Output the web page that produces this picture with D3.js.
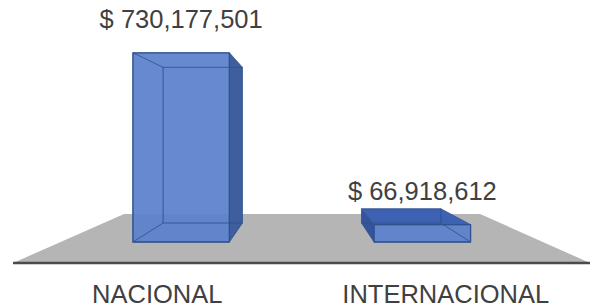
<!DOCTYPE html>
<html><head><meta charset="utf-8">
<script src="https://cdn.jsdelivr.net/npm/d3@7"></script>
<style>html,body{margin:0;padding:0;background:#fff;}svg{display:block;}</style>
</head><body>
<svg id="c" width="592" height="308"></svg>
<script>
const categories = ["NACIONAL", "INTERNACIONAL"];
const values = [730177501, 66918612];
const valueLabels = ["$ 730,177,501", "$ 66,918,612"];
const yDomain = [0, 800000000];

const floorY = 263, VX = 303, VY = 135;
const floorDepth = 0.383, barFront = 0.164, barBack = 0.3125;

const svg = d3.select("#c");
const x = d3.scaleBand().domain(categories).range([13, 590]).paddingInner(0.6).paddingOuter(0.3);
const y = d3.scaleLinear().domain(yDomain).range([0, 248]);

function proj(X, Y, d) {
  const sy0 = floorY - Y;
  return [X + (VX - X) * d, sy0 + (VY - sy0) * d];
}
const line = pts => "M" + pts.map(p => p.join(",")).join("L") + "Z";

// floor
const [x0, x1] = x.range();
svg.append("path")
  .attr("d", line([proj(x0, 0, 0), proj(x1, 0, 0), proj(x1, 0, floorDepth), proj(x0, 0, floorDepth)]))
  .attr("fill", "#b5b5b5");
svg.append("line")
  .attr("x1", x0).attr("x2", x1).attr("y1", floorY).attr("y2", floorY)
  .attr("stroke", "#4a4a4a").attr("stroke-width", 2.5);

// bars
const data = categories.map((c, i) => ({c, v: values[i], label: valueLabels[i]}));
const g = svg.selectAll("g.bar").data(data).join("g").attr("class", "bar");
g.each(function(d) {
  const el = d3.select(this);
  const L = x(d.c), R = x(d.c) + x.bandwidth(), T = y(d.v);
  const P = proj;
  const frontTop = P(L, T, barFront)[1];
  const back   = [P(L,0,barBack), P(R,0,barBack), P(R,T,barBack), P(L,T,barBack)];
  const left   = [P(L,0,barFront), P(L,0,barBack), P(L,T,barBack), P(L,T,barFront)];
  const right  = [P(R,0,barFront), P(R,0,barBack), P(R,T,barBack), P(R,T,barFront)];
  const bottom = [P(L,0,barFront), P(R,0,barFront), P(R,0,barBack), P(L,0,barBack)];
  const topF   = [P(L,T,barFront), P(R,T,barFront), P(R,T,barBack), P(L,T,barBack)];
  const front  = [P(L,0,barFront), P(R,0,barFront), P(R,T,barFront), P(L,T,barFront)];
  const leftVis = L > VX, rightVis = R < VX, topVis = frontTop > VY;

  const fills = [
    {pts: topF, fill: "#3d62b4", op: topVis ? 1 : 0},
    {pts: left, fill: "#33539a", op: leftVis ? 1 : 0},
    {pts: right, fill: "#3e5e9e", op: rightVis ? 1 : 0},
    {pts: front, fill: "#5a80cc", op: 0.93}
  ];
  el.selectAll("path.face").data(fills).join("path").attr("class", "face")
    .attr("d", f => line(f.pts))
    .attr("fill", f => f.fill).attr("fill-opacity", f => f.op)
    .attr("stroke", "none");
  el.selectAll("path.edge").data([back, left, right, bottom, topF]).join("path").attr("class", "edge")
    .attr("d", line)
    .attr("fill", "none")
    .attr("stroke", "#2f528f").attr("stroke-width", 1).attr("stroke-opacity", 0.5)
    .attr("stroke-linejoin", "round");
  el.append("path").attr("d", line(front))
    .attr("fill", "none").attr("stroke", "#2f528f").attr("stroke-width", 1.3)
    .attr("stroke-linejoin", "round");
  const top = P((L + R) / 2, T, barFront);
  el.append("text")
    .attr("x", top[0]).attr("y", top[1] - 25)
    .attr("text-anchor", "middle")
    .attr("font-family", "Liberation Sans, Arial, sans-serif")
    .attr("font-size", 25.5).attr("fill", "#404040")
    .text(d.label);
});

// category labels
svg.selectAll("text.cat").data(categories).join("text").attr("class", "cat")
  .attr("x", c => x(c) + x.bandwidth() / 2).attr("y", 303)
  .attr("text-anchor", "middle")
  .attr("font-family", "Liberation Sans, Arial, sans-serif")
  .attr("font-size", 25.5).attr("fill", "#404040")
  .text(c => c);
</script>
</body></html>
